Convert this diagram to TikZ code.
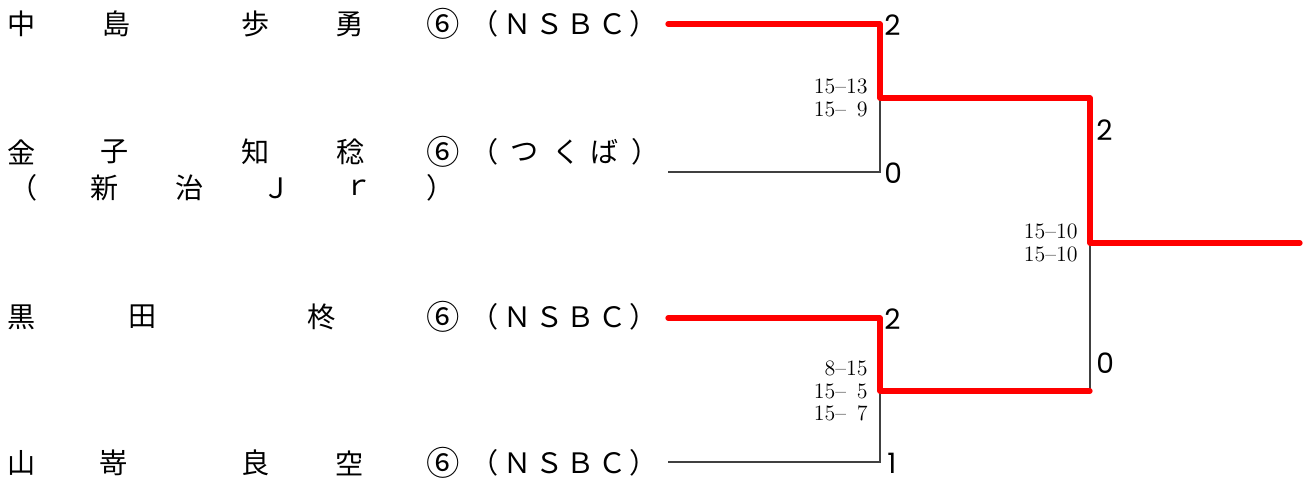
\documentclass[tikz,border=0pt]{standalone}
\usepackage{fontspec}
\newfontfamily\jp{Noto Sans CJK JP}
\newfontfamily\pts{Poppins}
\usetikzlibrary{positioning}

\tikzset{
  plyr/.style={font=\jp\fontsize{16}{19}\selectfont, inner sep=0pt},
  rank/.style={plyr, font=\jp\fontsize{19}{21}\selectfont},
  pts/.style={font=\pts\fontsize{16}{19}\selectfont, inner sep=0pt, anchor=west},
  games/.style={font=\fontsize{12.5}{13}\selectfont, align=right, inner sep=0pt},
  win/.style={red, line width=3pt, line cap=round, line join=round},
  lose/.style={black!75, line width=0.6pt},
}

\begin{document}
\begin{tikzpicture}[x=0.02cm, y=-0.02cm]
\useasboundingbox (0,0) rectangle (1306,481);
% players
\foreach \ch/\x [count=\i] in {中/22,島/117,歩/256,勇/350,（/485,Ｎ/518,Ｓ/550,Ｂ/581,Ｃ/613,）/644}
  \node[plyr] (a\i) at (\x,24) {\ch};
\foreach \ch/\x [count=\i] in {金/22,子/115,知/256,稔/351,（/485,つ/525,く/567,ば/605,）/646}
  \node[plyr] (b\i) at (\x,152) {\ch};
\foreach \ch/\x [count=\i] in {（/24,新/105,治/190,Ｊ/277,ｒ/359,）/441}
  \node[plyr] (bb\i) at (\x,188) {\ch};
\foreach \ch/\x [count=\i] in {黒/22,田/143,柊/322,（/485,Ｎ/518,Ｓ/550,Ｂ/581,Ｃ/613,）/644}
  \node[plyr] (c\i) at (\x,317) {\ch};
\foreach \ch/\x [count=\i] in {山/22,嵜/114,良/256,空/350,（/485,Ｎ/518,Ｓ/550,Ｂ/581,Ｃ/613,）/644}
  \node[plyr] (d\i) at (\x,463) {\ch};
% grade
\foreach \y [count=\i] in {24,152,317,463}
  \node[rank] (r\i) at (443,\y) {⑥};

% bracket
\coordinate (p1) at (668,24);
\coordinate (p2) at (668,172);
\coordinate (p3) at (668,318);
\coordinate (p4) at (668,462);
\coordinate (m1) at (880,98);
\coordinate (m2) at (880,391);
\coordinate (f) at (1090,243);
\coordinate (w) at (1300,243);

\draw[lose] (p2) -- (p2 -| m1) -- (m1);
\draw[lose] (p4) -- (p4 -| m2) -- (m2);
\draw[lose] (m2 -| f) -- (f);
\draw[win] (p1) -- (p1 -| m1) -- (m1) -- (m1 -| f) -- (f) -- (w);
\draw[win] (p3) -- (p3 -| m2) -- (m2) -- (m2 -| f);

% sets won
\node[pts] (s1) at (884,25) {2};
\node[pts] (s2) at (884,173) {0};
\node[pts] (s3) at (884,319) {2};
\node[pts] (s4) at (887,463) {1};
\node[pts] (s5) at (1096,130) {2};
\node[pts] (s6) at (1096,363) {0};

% game scores
\node[games, left=0.24cm of m1] (g1) {15--13\\15--\phantom{1}9};
\node[games, left=0.24cm of m2] (g2) {8--15\\15--\phantom{1}5\\15--\phantom{1}7};
\node[games, left=0.24cm of f] (g3) {15--10\\15--10};
\end{tikzpicture}
\end{document}
